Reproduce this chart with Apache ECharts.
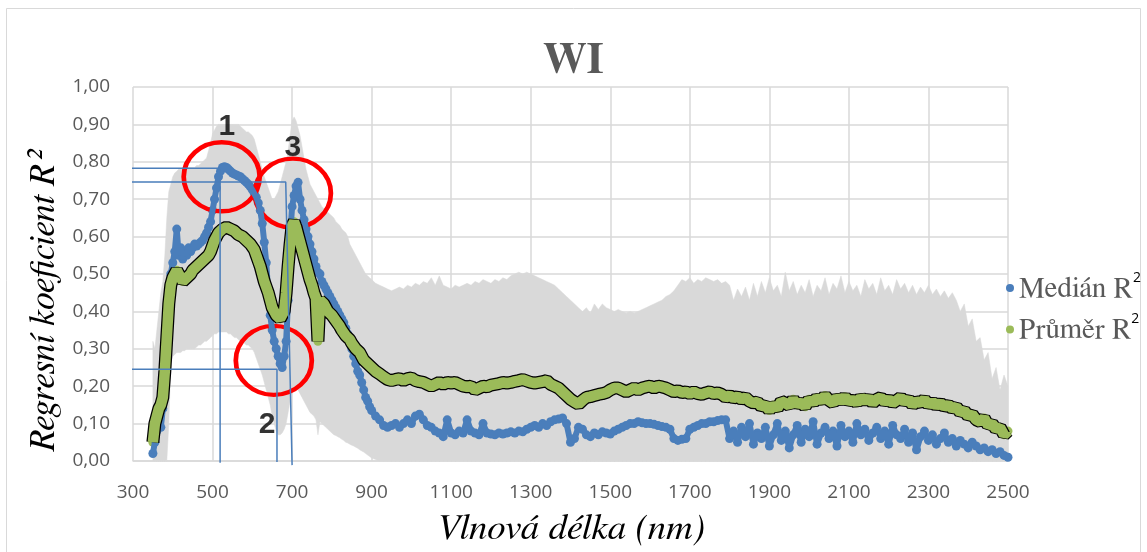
<!DOCTYPE html>
<html>
<head>
<meta charset="utf-8">
<title>WI</title>
<script src="https://cdn.jsdelivr.net/npm/echarts@6/dist/echarts.min.js"></script>
<style>
  html, body { margin: 0; padding: 0; background: #fff; }
  #chart { width: 1147px; height: 552px; }
</style>
</head>
<body>
<div id="chart"></div>
<script>
// wavelengths: 5 nm steps up to 900 nm, then 10 nm steps
const wlA = [];
for (let w = 350; w <= 900; w += 5) wlA.push(w);
const wlB = [];
for (let w = 910; w <= 2500; w += 10) wlB.push(w);
const wavelengths = wlA.concat(wlB);

const xTicks = [300, 500, 700, 900, 1100, 1300, 1500, 1700, 1900, 2100, 2300, 2500];

// Medián R2 (blue)
const medianA = [
  0.02, 0.05, 0.08, 0.10, 0.09, 0.14, 0.22, 0.34, 0.45, 0.50,        // 350
  0.53, 0.56, 0.62, 0.55, 0.57, 0.54, 0.56, 0.55, 0.57, 0.56,        // 400
  0.57, 0.58, 0.575, 0.58, 0.585, 0.59, 0.60, 0.61, 0.625, 0.64,     // 450
  0.67, 0.70, 0.73, 0.76, 0.775, 0.785, 0.787, 0.785, 0.78, 0.775,   // 500
  0.77, 0.767, 0.765, 0.762, 0.76, 0.755, 0.75, 0.745, 0.74, 0.733,  // 550
  0.725, 0.715, 0.705, 0.69, 0.67, 0.635, 0.585, 0.53, 0.45, 0.39,   // 600
  0.35, 0.32, 0.30, 0.28, 0.26, 0.25, 0.28, 0.32, 0.43, 0.60,        // 650
  0.68, 0.71, 0.735, 0.745, 0.70, 0.67, 0.645, 0.62, 0.60, 0.58,     // 700
  0.56, 0.54, 0.52, 0.505, 0.50, 0.48, 0.47, 0.46, 0.45, 0.44,       // 750
  0.43, 0.42, 0.41, 0.40, 0.39, 0.38, 0.37, 0.355, 0.34, 0.32,       // 800
  0.30, 0.28, 0.26, 0.24, 0.23, 0.21, 0.19, 0.17, 0.16, 0.145,       // 850
  0.135                                                              // 900
];
const medianB = [
  0.12, 0.11, 0.095, 0.09, 0.095, 0.10, 0.09, 0.10, 0.11, 0.10,      // 910
  0.12, 0.125, 0.11, 0.095, 0.09, 0.08, 0.075, 0.065, 0.11, 0.075,   // 1010
  0.07, 0.08, 0.075, 0.11, 0.08, 0.075, 0.07, 0.10, 0.075, 0.072,    // 1110
  0.07, 0.075, 0.072, 0.075, 0.078, 0.075, 0.08, 0.078, 0.085, 0.09, // 1210
  0.095, 0.09, 0.10, 0.095, 0.105, 0.11, 0.112, 0.115, 0.10, 0.05,   // 1310
  0.06, 0.09, 0.085, 0.07, 0.065, 0.075, 0.07, 0.078, 0.075, 0.072,  // 1410
  0.08, 0.085, 0.09, 0.095, 0.10, 0.10, 0.105, 0.102, 0.10, 0.10,    // 1510
  0.098, 0.095, 0.092, 0.09, 0.085, 0.06, 0.055, 0.058, 0.06, 0.085, // 1610
  0.09, 0.095, 0.10, 0.10, 0.105, 0.105, 0.108, 0.11, 0.11, 0.06,    // 1710
  0.08, 0.05, 0.09, 0.065, 0.10, 0.045, 0.075, 0.06, 0.09, 0.04,     // 1810
  0.07, 0.10, 0.055, 0.08, 0.035, 0.07, 0.095, 0.05, 0.085, 0.065,   // 1910
  0.105, 0.045, 0.075, 0.09, 0.06, 0.08, 0.04, 0.095, 0.065, 0.08,   // 2010
  0.05, 0.10, 0.07, 0.085, 0.055, 0.075, 0.09, 0.06, 0.08, 0.045,    // 2110
  0.095, 0.07, 0.06, 0.085, 0.05, 0.075, 0.03, 0.065, 0.08, 0.055,   // 2210
  0.07, 0.045, 0.06, 0.075, 0.05, 0.06, 0.04, 0.055, 0.045, 0.035,   // 2310
  0.05, 0.04, 0.03, 0.035, 0.025, 0.03, 0.02, 0.025, 0.015, 0.01     // 2410
];

// Průměr R2 (green)
const meanA = [
  0.05, 0.10, 0.12, 0.14, 0.15, 0.17, 0.24, 0.33, 0.42, 0.47,        // 350
  0.49, 0.50, 0.51, 0.50, 0.49, 0.48, 0.485, 0.49, 0.495, 0.50,      // 400
  0.51, 0.515, 0.52, 0.525, 0.53, 0.535, 0.54, 0.545, 0.55, 0.56,    // 450
  0.575, 0.59, 0.60, 0.61, 0.615, 0.62, 0.625, 0.625, 0.625, 0.62,   // 500
  0.62, 0.615, 0.61, 0.605, 0.60, 0.60, 0.595, 0.59, 0.585, 0.58,    // 550
  0.575, 0.565, 0.55, 0.535, 0.52, 0.50, 0.48, 0.465, 0.45, 0.43,    // 600
  0.41, 0.40, 0.39, 0.385, 0.38, 0.385, 0.40, 0.45, 0.52, 0.58,      // 650
  0.63, 0.64, 0.625, 0.605, 0.585, 0.565, 0.545, 0.525, 0.505, 0.485,// 700
  0.47, 0.45, 0.435, 0.32, 0.43, 0.425, 0.42, 0.41, 0.40, 0.395,     // 750
  0.39, 0.385, 0.375, 0.37, 0.36, 0.35, 0.345, 0.335, 0.33, 0.325,   // 800
  0.315, 0.31, 0.30, 0.295, 0.29, 0.28, 0.27, 0.265, 0.26, 0.255,    // 850
  0.25                                                               // 900
];
const meanB = [
  0.24, 0.233, 0.225, 0.218, 0.215, 0.218, 0.22, 0.215, 0.22, 0.222,     // 910
  0.215, 0.212, 0.21, 0.205, 0.20, 0.205, 0.21, 0.205, 0.21, 0.208,      // 1010
  0.21, 0.205, 0.20, 0.198, 0.20, 0.19, 0.195, 0.20, 0.198, 0.203,       // 1110
  0.205, 0.207, 0.21, 0.208, 0.21, 0.213, 0.215, 0.218, 0.214, 0.21,     // 1210
  0.208, 0.21, 0.212, 0.215, 0.205, 0.20, 0.195, 0.185, 0.175, 0.165,    // 1310
  0.158, 0.152, 0.162, 0.17, 0.172, 0.175, 0.178, 0.18, 0.183, 0.19,     // 1410
  0.195, 0.195, 0.19, 0.185, 0.19, 0.195, 0.19, 0.195, 0.198, 0.20,      // 1510
  0.195, 0.20, 0.198, 0.195, 0.19, 0.185, 0.188, 0.183, 0.185, 0.18,     // 1610
  0.185, 0.18, 0.178, 0.182, 0.185, 0.18, 0.182, 0.178, 0.17, 0.175,     // 1710
  0.168, 0.172, 0.165, 0.17, 0.16, 0.155, 0.158, 0.145, 0.15, 0.135,     // 1810
  0.15, 0.14, 0.16, 0.155, 0.148, 0.165, 0.15, 0.158, 0.145, 0.165,      // 1910
  0.155, 0.17, 0.16, 0.175, 0.162, 0.155, 0.17, 0.16, 0.172, 0.158,      // 2010
  0.165, 0.155, 0.17, 0.16, 0.168, 0.155, 0.165, 0.17, 0.158, 0.165,     // 2110
  0.155, 0.162, 0.17, 0.158, 0.165, 0.15, 0.16, 0.155, 0.165, 0.15,      // 2210
  0.158, 0.148, 0.155, 0.145, 0.15, 0.14, 0.145, 0.13, 0.135, 0.12,      // 2310
  0.125, 0.11, 0.105, 0.115, 0.095, 0.10, 0.085, 0.09, 0.07, 0.08        // 2410
];

// grey band: max / min of R2
const upperA = [
  0.32, 0.30, 0.35, 0.40, 0.45, 0.48, 0.55, 0.65, 0.72, 0.74,        // 350
  0.76, 0.77, 0.775, 0.78, 0.78, 0.78, 0.78, 0.785, 0.785, 0.785,    // 400
  0.785, 0.785, 0.79, 0.79, 0.795, 0.80, 0.805, 0.81, 0.83, 0.85,    // 450
  0.875, 0.885, 0.895, 0.90, 0.90, 0.90, 0.90, 0.90, 0.90, 0.90,     // 500
  0.90, 0.90, 0.90, 0.90, 0.895, 0.89, 0.885, 0.88, 0.88, 0.875,     // 550
  0.87, 0.86, 0.84, 0.82, 0.80, 0.78, 0.76, 0.745, 0.73, 0.715,      // 600
  0.70, 0.70, 0.71, 0.72, 0.74, 0.76, 0.78, 0.80, 0.83, 0.87,        // 650
  0.91, 0.92, 0.91, 0.89, 0.87, 0.84, 0.81, 0.78, 0.76, 0.74,        // 700
  0.73, 0.72, 0.71, 0.70, 0.69, 0.68, 0.675, 0.67, 0.665, 0.66,      // 750
  0.655, 0.65, 0.64, 0.635, 0.63, 0.62, 0.615, 0.61, 0.60, 0.58,     // 800
  0.57, 0.56, 0.55, 0.54, 0.53, 0.52, 0.51, 0.50, 0.495, 0.49,       // 850
  0.485                                                              // 900
];
const upperB = [
  0.475, 0.47, 0.465, 0.46, 0.455, 0.46, 0.465, 0.46, 0.47, 0.465,   // 910
  0.475, 0.47, 0.48, 0.475, 0.49, 0.47, 0.495, 0.47, 0.465, 0.46,    // 1010
  0.47, 0.465, 0.47, 0.475, 0.47, 0.48, 0.475, 0.485, 0.48, 0.475,   // 1110
  0.485, 0.48, 0.49, 0.485, 0.495, 0.50, 0.505, 0.50, 0.505, 0.50,   // 1210
  0.495, 0.49, 0.485, 0.48, 0.475, 0.47, 0.46, 0.45, 0.44, 0.43,     // 1310
  0.42, 0.41, 0.40, 0.41, 0.395, 0.42, 0.405, 0.42, 0.41, 0.405,     // 1410
  0.40, 0.405, 0.40, 0.395, 0.40, 0.395, 0.40, 0.405, 0.41, 0.415,   // 1510
  0.42, 0.425, 0.43, 0.44, 0.445, 0.455, 0.47, 0.485, 0.48, 0.49,    // 1610
  0.475, 0.485, 0.48, 0.49, 0.485, 0.48, 0.485, 0.475, 0.48, 0.47,   // 1710
  0.43, 0.46, 0.44, 0.465, 0.43, 0.475, 0.44, 0.48, 0.45, 0.49,      // 1810
  0.455, 0.47, 0.44, 0.505, 0.455, 0.48, 0.445, 0.47, 0.45, 0.485,   // 1910
  0.44, 0.47, 0.455, 0.49, 0.445, 0.475, 0.46, 0.495, 0.45, 0.48,    // 2010
  0.455, 0.47, 0.44, 0.485, 0.46, 0.475, 0.445, 0.49, 0.455, 0.47,   // 2110
  0.445, 0.485, 0.46, 0.475, 0.45, 0.47, 0.445, 0.465, 0.45, 0.47,   // 2210
  0.445, 0.46, 0.44, 0.455, 0.435, 0.45, 0.43, 0.40, 0.42, 0.36,     // 2310
  0.38, 0.32, 0.33, 0.27, 0.29, 0.22, 0.25, 0.19, 0.23, 0.20         // 2410
];
const lowerA = [
  0, 0, 0, 0, 0, 0, 0, 0, 0.10, 0.26,                                // 350
  0.28, 0.285, 0.29, 0.29, 0.29, 0.295, 0.295, 0.30, 0.30, 0.30,     // 400
  0.30, 0.30, 0.305, 0.31, 0.31, 0.315, 0.32, 0.32, 0.325, 0.33,     // 450
  0.335, 0.34, 0.34, 0.345, 0.345, 0.345, 0.345, 0.345, 0.34, 0.34,  // 500
  0.335, 0.33, 0.33, 0.325, 0.32, 0.32, 0.315, 0.31, 0.31, 0.305,    // 550
  0.30, 0.29, 0.275, 0.26, 0.245, 0.23, 0.21, 0.19, 0.17, 0.15,      // 600
  0.12, 0.10, 0.08, 0.07, 0.07, 0.075, 0.085, 0.10, 0.13, 0.16,      // 650
  0.19, 0.20, 0.20, 0.19, 0.18, 0.17, 0.16, 0.15, 0.14, 0.13,        // 700
  0.125, 0.12, 0.11, 0.07, 0.105, 0.10, 0.095, 0.09, 0.085, 0.08,    // 750
  0.075, 0.07, 0.068, 0.065, 0.062, 0.058, 0.055, 0.05, 0.048, 0.045,// 800
  0.042, 0.04, 0.037, 0.034, 0.03, 0.027, 0.024, 0.02, 0.016, 0.012, // 850
  0.008                                                              // 900
];
const lowerB = [
  0.004, 0, 0, 0, 0, 0, 0, 0, 0, 0,   // 910
  0, 0, 0, 0, 0, 0, 0, 0, 0, 0,       // 1010
  0, 0, 0, 0, 0, 0, 0, 0, 0, 0,       // 1110
  0, 0, 0, 0, 0, 0, 0, 0, 0, 0,       // 1210
  0, 0, 0, 0, 0, 0, 0, 0, 0, 0,       // 1310
  0, 0, 0, 0, 0, 0, 0, 0, 0, 0,       // 1410
  0, 0, 0, 0, 0, 0, 0, 0, 0, 0,       // 1510
  0, 0, 0, 0, 0, 0, 0, 0, 0, 0,       // 1610
  0, 0, 0, 0, 0, 0, 0, 0, 0, 0,       // 1710
  0, 0, 0, 0, 0, 0, 0, 0, 0, 0,       // 1810
  0, 0, 0, 0, 0, 0, 0, 0, 0, 0,       // 1910
  0, 0, 0, 0, 0, 0, 0, 0, 0, 0,       // 2010
  0, 0, 0, 0, 0, 0, 0, 0, 0, 0,       // 2110
  0, 0, 0, 0, 0, 0, 0, 0, 0, 0,       // 2210
  0, 0, 0, 0, 0, 0, 0, 0, 0, 0,       // 2310
  0, 0, 0, 0, 0, 0, 0, 0, 0, 0        // 2410
];

// annotations (data coordinates: nm, R2)
const circleCenters = [[523, 0.760], [654, 0.269], [702, 0.716]];
const circleLabels = [['1', 536, 0.893], ['2', 637, 0.096], ['3', 702, 0.838]];
const guideLines = [
  [[285, 0.783], [519, 0.783], [519, -0.005]],
  [[275, 0.746], [684, 0.746], [700, -0.011]],
  [[285, 0.245], [662, 0.245], [662, -0.003]]
];

const median = medianA.concat(medianB);
const mean = meanA.concat(meanB);
const upper = upperA.concat(upperB);
const lower = lowerA.concat(lowerB);

const pairs = (ys) => wavelengths.map((w, i) => [w, ys[i]]);

const BLUE = '#4a7ebb';
const GREEN = '#9bbb59';
const GREY_TXT = '#595959';
const SERIF = 'FreeSerif, "Liberation Serif", serif';
const SANS = '"Open Sans", "Liberation Sans", sans-serif';

const chart = echarts.init(document.getElementById('chart'), null, { renderer: 'canvas' });

// grey min-max envelope as one polygon
function renderBand(params, api) {
  if (params.dataIndex !== 0) return null;
  const top = wavelengths.map((w, i) => api.coord([w, upper[i]]));
  const bottom = wavelengths.map((w, i) => api.coord([w, lower[i]])).reverse();
  return {
    type: 'polygon',
    silent: true,
    shape: { points: top.concat(bottom) },
    style: { fill: '#d9d9d9', stroke: '#d9d9d9', lineWidth: 0.5 }
  };
}

const option = {
  backgroundColor: '#fff',
  animation: false,
  title: {
    text: 'WI',
    left: 'center',
    top: 33,
    textStyle: { fontFamily: SERIF, fontWeight: 'bold', fontSize: 44, color: GREY_TXT }
  },
  legend: {
    data: ['Medián R²', 'Průměr R²'],
    orient: 'vertical',
    left: 1001,
    top: 266,
    itemGap: 10,
    itemWidth: 8,
    itemHeight: 8,
    icon: 'circle',
    formatter: (name) => name.replace('²', '{s|2}'),
    textStyle: {
      fontFamily: SERIF, fontSize: 29, color: GREY_TXT,
      rich: { s: { fontFamily: SANS, fontSize: 14, color: '#000', padding: [0, 0, 20, 0] } }
    }
  },
  grid: { left: 133, right: 139, top: 87, bottom: 91, outerBoundsMode: 'none' },
  xAxis: {
    type: 'value',
    min: 300, max: 2500, interval: 200,
    name: 'Vlnová délka (nm)',
    nameLocation: 'middle',
    nameGap: 48,
    nameTextStyle: { fontFamily: SERIF, fontStyle: 'italic', fontSize: 37, color: '#000' },
    axisLine: { show: true, lineStyle: { color: '#d9d9d9', width: 1.5 } },
    axisTick: { show: false },
    axisLabel: {
      margin: 22, fontFamily: SANS, fontSize: 19, color: GREY_TXT,
      formatter: (v) => (xTicks.indexOf(v) >= 0 ? String(v) : '')
    },
    splitLine: { show: true, lineStyle: { color: '#d9d9d9', width: 1.5 } }
  },
  yAxis: {
    type: 'value',
    min: 0, max: 1, interval: 0.1,
    name: 'Regresní koeficient R²',
    nameLocation: 'middle',
    nameGap: 70,
    nameTextStyle: {
      fontFamily: SERIF, fontStyle: 'italic', fontSize: 36, color: '#000',
      padding: [0, 56, 0, 0]
    },
    axisLine: { show: false },
    axisTick: { show: false },
    axisLabel: {
      margin: 23, fontFamily: SANS, fontSize: 19, color: GREY_TXT,
      formatter: (v) => v.toFixed(2).replace('.', ',')
    },
    splitLine: { show: true, lineStyle: { color: '#d9d9d9', width: 1.5 } }
  },
  graphic: [{
    type: 'rect',
    silent: true,
    shape: { x: 6.5, y: 8.5, width: 1134, height: 560 },
    style: { fill: 'none', stroke: '#d9d9d9', lineWidth: 1 }
  }],
  series: [
    {
      name: 'band', type: 'custom', silent: true,
      data: wavelengths.map((w, i) => [w, lower[i], upper[i]]),
      encode: { x: 0, y: [1, 2] },
      renderItem: renderBand
    },
    {
      name: 'medianTrace', type: 'line', silent: true, data: pairs(median),
      symbol: 'none', lineStyle: { color: BLUE, width: 6 }
    },
    {
      name: 'Medián R²', type: 'scatter', data: pairs(median),
      symbolSize: 9, itemStyle: { color: BLUE, opacity: 1 }
    },
    {
      name: 'meanOutline', type: 'line', silent: true, data: pairs(mean),
      symbol: 'none', lineStyle: { color: '#000', width: 13 }
    },
    {
      name: 'meanTrace', type: 'line', silent: true, data: pairs(mean),
      symbol: 'none', lineStyle: { color: GREEN, width: 10.5 }
    },
    {
      name: 'Průměr R²', type: 'scatter', data: pairs(mean),
      symbolSize: 9, itemStyle: { color: GREEN, opacity: 1 }
    },
    ...guideLines.map((pts) => ({
      type: 'line', silent: true, clip: false, data: pts,
      symbol: 'none', lineStyle: { color: BLUE, width: 1.5 }
    })),
    {
      type: 'scatter', silent: true, data: circleCenters,
      symbol: 'circle', symbolSize: [76, 69],
      itemStyle: { color: 'rgba(0,0,0,0)', borderColor: '#ff0000', borderWidth: 4.5, opacity: 1 }
    },
    {
      type: 'scatter', silent: true, clip: false,
      data: circleLabels.map((d) => ({ name: d[0], value: [d[1], d[2]] })),
      symbolSize: 1, itemStyle: { color: 'rgba(0,0,0,0)' },
      label: {
        show: true, position: 'inside', formatter: '{b}',
        fontFamily: '"Liberation Sans", sans-serif', fontWeight: 'bold', fontSize: 30, color: '#000'
      }
    }
  ]
};

chart.setOption(option);
</script>
</body>
</html>
